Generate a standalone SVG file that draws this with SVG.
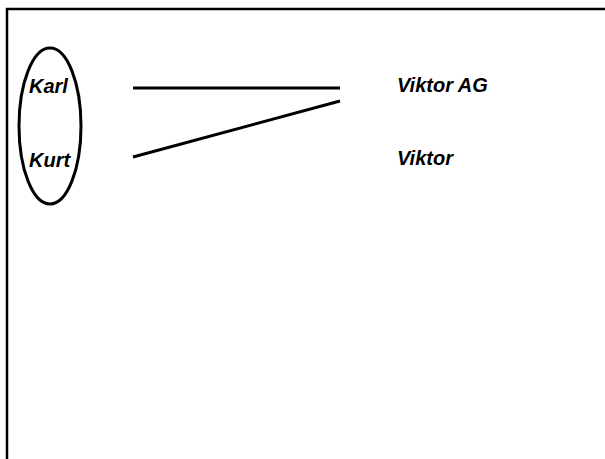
<svg xmlns="http://www.w3.org/2000/svg" width="605" height="459" viewBox="0 0 605 459">
<style>
.t{font-family:"Liberation Sans",Arial,sans-serif;font-size:20px;font-weight:bold;font-style:italic;fill:#000}
.c{stroke:#000;stroke-width:3;fill:none}
</style>
<rect x="0" y="0" width="605" height="459" fill="#fff"/>
<rect x="7" y="9" width="620" height="470" fill="none" stroke="#000" stroke-width="2.5"/>
<g id="group-ellipse"><ellipse cx="50" cy="126" rx="31" ry="78" class="c"/></g>
<g id="karl"><text class="t" x="29" y="93">Karl</text></g>
<g id="kurt"><text class="t" x="29" y="167">Kurt</text></g>
<g id="viktor-ag"><text class="t" x="397" y="92">Viktor AG</text></g>
<g id="viktor"><text class="t" x="397" y="165">Viktor</text></g>
<g id="connectors">
<line class="c" x1="133" y1="88" x2="340" y2="88"/>
<line class="c" x1="133" y1="157" x2="340" y2="101"/>
</g>
</svg>
